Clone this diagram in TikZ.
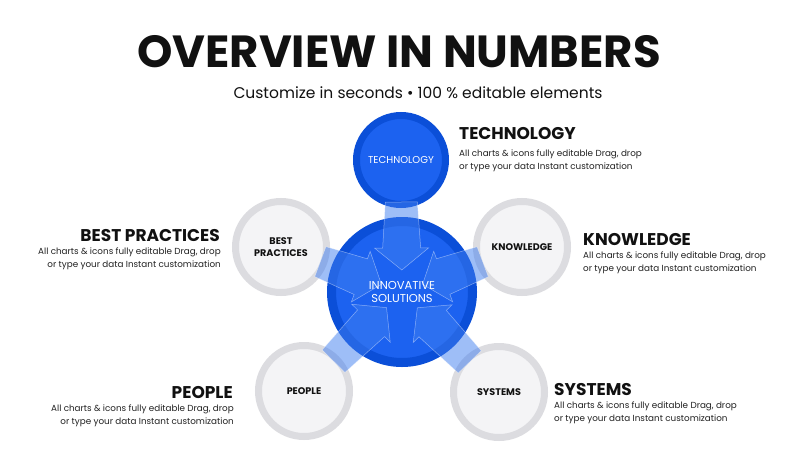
\documentclass[tikz,border=0pt]{standalone}
\usepackage{fontspec}
\setmainfont{Poppins}
\usetikzlibrary{calc}

\definecolor{ringblue}{HTML}{0B4FD8}
\definecolor{coreblue}{HTML}{1C62F0}
\definecolor{bandblue}{HTML}{3F7EF0}
\definecolor{ringgray}{HTML}{DCDCE0}
\definecolor{coregray}{HTML}{F4F4F6}
\definecolor{inkblack}{HTML}{111111}
\definecolor{inkgray}{HTML}{222222}

\tikzset{
  hub/.style={circle, draw=ringblue, line width=9pt, fill=coreblue, minimum size=141pt, inner sep=0pt},
  bluesat/.style={circle, draw=ringblue, line width=7pt, fill=coreblue, minimum size=89pt, inner sep=0pt, text=white, font=\fontsize{10}{12}\selectfont},
  graysat/.style={circle, draw=ringgray, line width=7pt, fill=coregray, minimum size=91pt, inner sep=0pt, text=inkblack, align=center, font=\bfseries\fontsize{9.6}{12}\selectfont},
  band/.style={fill=bandblue, fill opacity=0.5, draw=white, draw opacity=0.45, line width=0.5pt},
  heading/.style={font=\bfseries\fontsize{17}{20}\selectfont, text=inkblack, inner sep=0pt},
  blurb/.style={font=\fontsize{8.8}{12.5}\selectfont, text=inkgray, inner sep=0pt},
}

\begin{document}
\begin{tikzpicture}[x=1pt,y=-1pt]
\useasboundingbox (0,0) rectangle (800,450);
\fill[white] (0,0) rectangle (800,450);

\node[font=\bfseries\fontsize{45}{50}\selectfont, text=inkblack] (title) at (399,52) {OVERVIEW IN NUMBERS};
\node[font=\fontsize{15.5}{18}\selectfont, text=inkblack] (sub) at (418,93) {Customize in seconds \textbullet{} 100 \% editable elements};

\node[hub] (ctr) at (402,292) {};
\node[bluesat] (tech) at (401,160) {TECHNOLOGY};
\node[graysat] (know) at (522,247) {KNOWLEDGE};
\node[graysat] (best) at (281,247) {BEST\\PRACTICES};
\node[graysat] (peop) at (304,391) {PEOPLE};
\node[graysat] (syst) at (499,392) {SYSTEMS};

% arrows into the hub
\foreach \s in {tech,know,best,peop,syst}{
  \coordinate (root) at ($(\s)!42pt!(ctr)$);
  \coordinate (neck) at ($(ctr)!44pt!(\s)$);
  \coordinate (tip) at ($(ctr)!22pt!(\s)$);
  \draw[band] ($(root)!16pt!90:(ctr)$) -- ($(neck)!19pt!90:(ctr)$) -- ($(neck)!27pt!90:(ctr)$) -- (tip)
    -- ($(neck)!27pt!-90:(ctr)$) -- ($(neck)!19pt!-90:(ctr)$) -- ($(root)!16pt!-90:(ctr)$) -- cycle;
}

\node[text=white, align=center, font=\fontsize{11.5}{13.5}\selectfont] (hublabel) at (ctr) {INNOVATIVE\\SOLUTIONS};

\node[heading, anchor=base west] (techhd) at (459,139) {TECHNOLOGY};
\node[blurb, anchor=north west, align=left] (techtx) at (459,150) {All charts \& icons fully editable Drag, drop\\or type your data Instant customization};

\node[heading, anchor=base west] (knowhd) at (583,245) {KNOWLEDGE};
\node[blurb, anchor=north west, align=left] (knowtx) at (583,252) {All charts \& icons fully editable Drag, drop\\or type your data Instant customization};

\node[heading, anchor=base east] (besthd) at (220,241) {BEST PRACTICES};
\node[blurb, anchor=north east, align=right] (besttx) at (221,248) {All charts \& icons fully editable Drag, drop\\or type your data Instant customization};

\node[heading, anchor=base east] (peophd) at (233,398) {PEOPLE};
\node[blurb, anchor=north east, align=right] (peoptx) at (234,405) {All charts \& icons fully editable Drag, drop\\or type your data Instant customization};

\node[heading, anchor=base west] (systhd) at (554,395) {SYSTEMS};
\node[blurb, anchor=north west, align=left] (consttx) at (554,402) {All charts \& icons fully editable Drag, drop\\or type your data Instant customization};
\end{tikzpicture}
\end{document}
